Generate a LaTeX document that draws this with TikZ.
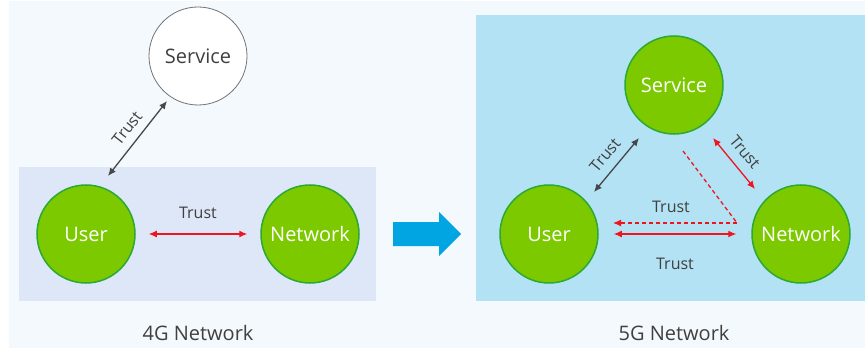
\documentclass[tikz,border=0pt]{standalone}
\usepackage{fontspec}
\setmainfont{Open Sans}
\usetikzlibrary{arrows.meta}
\definecolor{bgc}{HTML}{F4F9FE}
\definecolor{box4}{HTML}{DDE7F8}
\definecolor{box5}{HTML}{B3E2F4}
\definecolor{gfill}{HTML}{7DC900}
\definecolor{gline}{HTML}{2BA836}
\definecolor{txt}{HTML}{404040}
\definecolor{redc}{HTML}{F0141E}
\definecolor{bluec}{HTML}{00A5E2}
\tikzset{
  ent/.style={circle, minimum size=98pt, inner sep=0pt, fill=gfill, draw=gline, line width=1.5pt, text=white, font=\fontsize{20}{24}\selectfont},
  svc/.style={circle, minimum size=98pt, inner sep=0pt, fill=white, draw=black!55, line width=0.8pt, text=txt, font=\fontsize{20}{24}\selectfont},
  lbl/.style={text=txt, font=\fontsize{16}{19}\selectfont, inner sep=1pt},
  captext/.style={text=txt, font=\fontsize{20}{24}\selectfont},
  gar/.style={{Latex[length=8pt,width=7pt]}-{Latex[length=8pt,width=7pt]}, line width=1.3pt, draw=black!72},
  rar/.style={{Latex[length=8pt,width=7pt]}-{Latex[length=8pt,width=7pt]}, line width=1.3pt, draw=redc},
  rdash/.style={line width=1.3pt, draw=redc, dash pattern=on 4pt off 3pt},
}
\begin{document}
\begin{tikzpicture}[x=1pt,y=-1pt]
\useasboundingbox (0,0) rectangle (865,350);
\fill[white] (0,0) rectangle (865,350);
\fill[bgc] (9,1) rectangle (865,348);
% panels
\fill[box4] (19,167) rectangle (376,301);
\fill[box5] (476,15) rectangle (865,301);
% 4G
\node[svc] (s4) at (198,56) {Service};
\node[ent] (u4) at (86,234) {User};
\node[ent] (n4) at (310,234) {Network};
\coordinate (u4a) at (108,176);
\coordinate (s4a) at (167,101);
\draw[gar] (u4a) -- (s4a);
\node[lbl, rotate=52] (t4a) at (127,128) {Trust};
\draw[rar, shorten <=13pt, shorten >=13pt] (u4) -- (n4);
\node[lbl] (t4b) at (198,213) {Trust};
\node[captext] (c4) at (198,333) {4G Network};
% blue arrow
\fill[bluec] (393,222) -- (439,222) -- (439,212) -- (461,234) -- (439,256) -- (439,246) -- (393,246) -- cycle;
% 5G
\node[ent] (s5) at (674,85) {Service};
\node[ent] (u5) at (549,234) {User};
\node[ent] (n5) at (801,234) {Network};
\coordinate (u5a) at (594,192);
\coordinate (s5a) at (639,138);
\draw[gar] (u5a) -- (s5a);
\node[lbl, rotate=50] (t5a) at (605,155) {Trust};
\coordinate (s5b) at (713,138);
\coordinate (n5b) at (755,189);
\draw[rar] (s5b) -- (n5b);
\node[lbl, rotate=-50] (t5b) at (745,152) {Trust};
\coordinate (d1) at (683,151);
\coordinate (d2) at (737,223);
\coordinate (d3) at (613,223);
\draw[rdash] (d1) -- (d2);
\draw[rdash, -{Latex[length=8pt,width=7pt]}] (d2) -- (d3);
\draw[rar, shorten <=15pt, shorten >=15pt] (u5) -- (n5);
\node[lbl] (t5c) at (671,207) {Trust};
\node[lbl] (t5d) at (675,264) {Trust};
\node[captext] (c5) at (674,333) {5G Network};
\end{tikzpicture}
\end{document}
